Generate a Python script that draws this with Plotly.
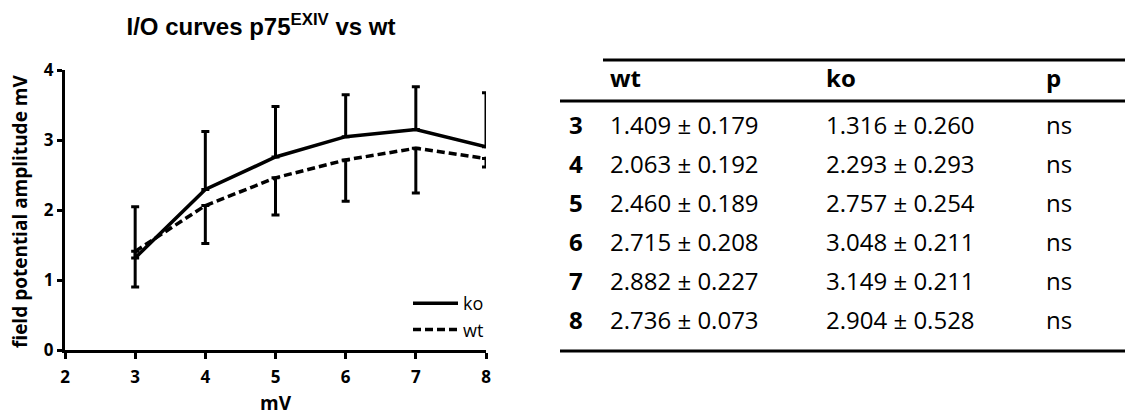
import plotly.graph_objects as go

# Stimulus intensities (mV)
stim = [3, 4, 5, 6, 7, 8]

# Mean field potential amplitude (mV) and SEM per genotype
wt_mean = [1.409, 2.063, 2.460, 2.715, 2.882, 2.736]
wt_sem = [0.179, 0.192, 0.189, 0.208, 0.227, 0.073]
ko_mean = [1.316, 2.293, 2.757, 3.048, 3.149, 2.904]
ko_sem = [0.260, 0.293, 0.254, 0.211, 0.211, 0.528]

# Error bar lengths as plotted (ko upward, wt downward)
ko_err = [0.73, 0.83, 0.72, 0.60, 0.61, 0.77]
wt_err = [0.51, 0.54, 0.53, 0.59, 0.64, 0.12]

p_vals = ["ns", "ns", "ns", "ns", "ns", "ns"]
table_header = ["wt", "ko", "p"]

x_ticks = [2, 3, 4, 5, 6, 7, 8]
y_ticks = [0, 1, 2, 3, 4]

W, H = 1125, 416
BODY = "Open Sans"


def px_x(v):
    return v / W


def px_y(v):
    return 1 - v / H


fig = go.Figure()

fig.add_trace(go.Scatter(
    x=stim, y=ko_mean, name="ko", mode="lines",
    line=dict(color="black", width=3.5),
    error_y=dict(type="data", symmetric=False, array=ko_err,
                 arrayminus=[0] * len(ko_err),
                 color="black", thickness=3, width=4),
))
fig.add_trace(go.Scatter(
    x=stim, y=wt_mean, name="wt", mode="lines",
    line=dict(color="black", width=3.5, dash="8px,4px"),
    error_y=dict(type="data", symmetric=False, array=[0] * len(wt_err),
                 arrayminus=wt_err,
                 color="black", thickness=3, width=4),
))

# ---- summary table (mean ± SEM), laid out as text cells with rules ----
col_x = [567, 608, 824, 1044]       # left edge of each column
header_y = 77
row_y0, row_step = 124, 39
tfont = dict(family=BODY, size=24, color="black")


def cell(text, x, y, bold=False):
    fig.add_annotation(
        text=f"<b>{text}</b>" if bold else text,
        xref="paper", yref="paper", x=px_x(x), y=px_y(y),
        xanchor="left", yanchor="middle", showarrow=False, font=tfont,
    )


for j, h in enumerate(table_header):
    cell(h, col_x[j + 1], header_y, bold=True)

for i, s in enumerate(stim):
    y = row_y0 + i * row_step
    cell(str(s), col_x[0], y, bold=True)
    cell(f"{wt_mean[i]:.3f} ± {wt_sem[i]:.3f}", col_x[1], y)
    cell(f"{ko_mean[i]:.3f} ± {ko_sem[i]:.3f}", col_x[2], y)
    cell(p_vals[i], col_x[3], y)

rules = [(603, 60), (560, 101), (560, 351)]
for x0, yy in rules:
    fig.add_shape(type="line", xref="paper", yref="paper",
                  x0=px_x(x0), x1=1.0, y0=px_y(yy), y1=px_y(yy),
                  line=dict(color="black", width=3), layer="above")

# y-axis title, placed beside the tick labels
fig.add_annotation(
    text="<b>field potential amplitude mV</b>", textangle=-90,
    xref="paper", yref="paper", x=px_x(20), y=px_y(212),
    xanchor="center", yanchor="middle", showarrow=False,
    font=dict(family=BODY, size=19, color="black"),
)

axis_font = dict(family=BODY, size=17, color="black", weight="bold")

fig.update_layout(
    width=W, height=H,
    margin=dict(l=0, r=0, t=0, b=0, autoexpand=False),
    paper_bgcolor="white", plot_bgcolor="white",
    title=dict(
        text="I/O curves p75<sup>EXIV</sup> vs wt",
        font=dict(family="Liberation Sans", size=24, color="black", weight="bold"),
        xref="container", yref="container",
        x=261 / W, y=1 - 27 / H, xanchor="center", yanchor="middle",
    ),
    xaxis=dict(
        domain=[px_x(65), px_x(486)],
        range=[2, 8], tickvals=x_ticks, ticktext=[str(t) for t in x_ticks],
        showline=True, linecolor="black", linewidth=3,
        ticks="outside", ticklen=6, tickwidth=3, tickcolor="black",
        ticklabelstandoff=4,
        showgrid=False, zeroline=False, tickfont=axis_font, automargin=False,
        title=dict(text="<b>mV</b>", font=dict(family=BODY, size=19, color="black"),
                   standoff=14),
    ),
    yaxis=dict(
        domain=[px_y(350), px_y(70)],
        range=[0, 4], tickvals=y_ticks,
        showline=True, linecolor="black", linewidth=3,
        ticks="outside", ticklen=5, tickwidth=3, tickcolor="black",
        showgrid=False, zeroline=False, tickfont=axis_font, automargin=False,
    ),
    showlegend=True,
    legend=dict(
        x=px_x(408), y=px_y(285), xanchor="left", yanchor="top",
        font=dict(family=BODY, size=18, color="black"),
        bgcolor="rgba(0,0,0,0)", tracegroupgap=0, itemwidth=45,
    ),
)

fig.write_html("out.html")
